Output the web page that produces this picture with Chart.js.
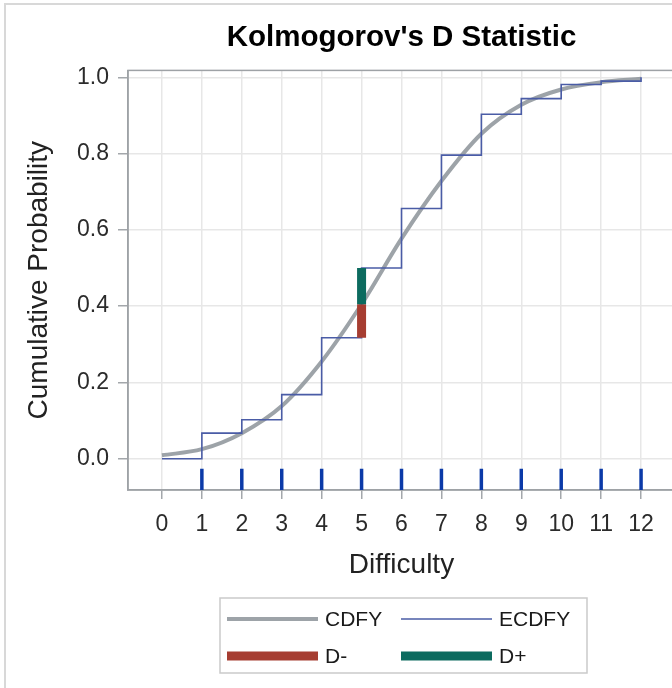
<!DOCTYPE html>
<html>
<head>
<meta charset="utf-8">
<title>Kolmogorov's D Statistic</title>
<script src="https://cdn.jsdelivr.net/npm/chart.js@4.4.1/dist/chart.umd.min.js"></script>
<style>
  html, body { margin: 0; padding: 0; background: #fff; overflow: hidden; }
  #wrap { position: relative; width: 672px; height: 688px; overflow: hidden; }
  #frame { position: absolute; left: 4px; top: 3px; right: -4px; bottom: -4px; border-left: 2px solid #d8d8d8; border-top: 2px solid #d8d8d8; }
  #kschart { position: absolute; left: 0; top: 0; }
</style>
</head>
<body>
<div id="wrap">
  <div id="frame"></div>
  <canvas id="kschart" width="690" height="688"></canvas>
</div>
<script>
var FONT = "'Liberation Sans', Arial, sans-serif";

// axis ticks
var xTicks = [0, 1, 2, 3, 4, 5, 6, 7, 8, 9, 10, 11, 12];
var yTicks = [0, 0.2, 0.4, 0.6, 0.8, 1.0];

// difficulty levels and the two distribution functions
var difficulty = [0, 1, 2, 3, 4, 5, 6, 7, 8, 9, 10, 11, 12];
var cdfY  = [0.009, 0.025, 0.067, 0.138, 0.255, 0.405, 0.577, 0.728, 0.852, 0.928, 0.968, 0.987, 0.996];
var ecdfY = [0.0, 0.067, 0.102, 0.168, 0.317, 0.50, 0.656, 0.796, 0.903, 0.944, 0.981, 0.990, 1.0];

// observed values shown as a rug under the curves
var rugX = [1, 2, 3, 4, 5, 6, 7, 8, 9, 10, 11, 12];

// where the largest gap between the two functions occurs
var dAt = 5;

var RUG_TOP = -0.026, RUG_BOTTOM = -0.082;

function toPoints(xs, ys) {
    return xs.map(function (x, i) { return { x: x, y: ys[i] }; });
}

var rugPoints = [];
rugX.forEach(function (v) {
    rugPoints.push({ x: v, y: RUG_TOP }, { x: v, y: RUG_BOTTOM }, { x: v, y: null });
});

var k = difficulty.indexOf(dAt);
var dMinus = [{ x: dAt, y: ecdfY[k - 1] }, { x: dAt, y: cdfY[k] }];
var dPlus  = [{ x: dAt, y: cdfY[k] }, { x: dAt, y: ecdfY[k] }];

// plot frame (top and right sides; the axes draw the other two)
var framePlugin = {
    id: 'frame',
    beforeDatasetsDraw: function (chart) {
        var a = chart.chartArea, ctx = chart.ctx;
        ctx.save();
        ctx.strokeStyle = '#9ea2a6';
        ctx.lineWidth = 1.5;
        ctx.strokeRect(a.left, a.top, a.right - a.left, a.bottom - a.top);
        ctx.restore();
    }
};

// boxed two-column legend under the x axis title
var boxLegend = {
    id: 'boxLegend',
    afterDraw: function (chart) {
        var ctx = chart.ctx, a = chart.chartArea;
        var items = chart.data.datasets.filter(function (d) { return d.label; });
        var w = 367, h = 75;
        var left = Math.round((a.left + a.right) / 2 - w / 2 + 2);
        var top = 598;
        ctx.save();
        ctx.strokeStyle = '#cacaca';
        ctx.lineWidth = 1.5;
        ctx.strokeRect(left, top, w, h);
        ctx.font = '21px ' + FONT;
        ctx.textBaseline = 'middle';
        ctx.fillStyle = '#1a1a1a';
        items.forEach(function (d, i) {
            var col = i % 2, row = Math.floor(i / 2);
            var sx = left + (col ? 181 : 7);
            var y = top + 21 + row * 37;
            ctx.strokeStyle = d.borderColor;
            ctx.lineWidth = d.borderWidth;
            ctx.lineCap = 'butt';
            ctx.beginPath();
            ctx.moveTo(sx, y);
            ctx.lineTo(sx + 91, y);
            ctx.stroke();
            ctx.fillText(d.label, sx + 98, y + 1);
        });
        ctx.restore();
    }
};

var ctx = document.getElementById('kschart').getContext('2d');
var ksChart = new Chart(ctx, {
    type: 'line',
    data: {
        datasets: [{
            label: 'CDFY',
            data: toPoints(difficulty, cdfY),
            borderColor: 'rgba(140,147,153,0.85)',
            borderWidth: 4,
            cubicInterpolationMode: 'monotone',
            pointRadius: 0,
            order: 4
        }, {
            label: 'ECDFY',
            data: toPoints(difficulty, ecdfY),
            borderColor: '#4a5ca6',
            borderWidth: 1.6,
            stepped: 'before',
            pointRadius: 0,
            order: 3
        }, {
            label: 'D-',
            data: dMinus,
            borderColor: '#a63d31',
            borderWidth: 9,
            borderCapStyle: 'butt',
            pointRadius: 0,
            order: 1
        }, {
            label: 'D+',
            data: dPlus,
            borderColor: '#0c6b5f',
            borderWidth: 9,
            borderCapStyle: 'butt',
            pointRadius: 0,
            order: 0
        }, {
            label: '',
            data: rugPoints,
            borderColor: '#0b3aa8',
            borderWidth: 3.5,
            borderCapStyle: 'butt',
            pointRadius: 0,
            spanGaps: false,
            order: 2
        }]
    },
    options: {
        responsive: false,
        animation: false,
        layout: { padding: { left: 10, top: 4, right: 15, bottom: 100 } },
        plugins: {
            legend: { display: false },
            tooltip: { enabled: false },
            title: {
                display: true,
                fullSize: false,
                text: "Kolmogorov's D Statistic",
                color: '#000',
                font: { family: FONT, size: 29.5, weight: 'bold' },
                padding: { top: 16, bottom: 15 }
            }
        },
        scales: {
            x: {
                type: 'linear',
                min: -0.85,
                max: 12.85,
                afterBuildTicks: function (s) { s.ticks = xTicks.map(function (v) { return { value: v }; }); },
                afterFit: function (s) { s.height = 98; },
                grid: { color: '#e7e7e7', lineWidth: 1.5, tickColor: '#a3a7ab', tickLength: 9, tickWidth: 1.5 },
                border: { color: '#9ea2a6', width: 1.5 },
                ticks: { color: '#2b2b2b', font: { family: FONT, size: 23 }, padding: 12, maxRotation: 0, autoSkip: false },
                title: { display: true, text: 'Difficulty', color: '#222', font: { family: FONT, size: 28 }, padding: { top: 0, bottom: 6 } }
            },
            y: {
                type: 'linear',
                min: -0.082,
                max: 1.018,
                afterBuildTicks: function (s) { s.ticks = yTicks.map(function (v) { return { value: v }; }); },
                afterFit: function (s) { s.width = 118; },
                grid: { color: '#e7e7e7', lineWidth: 1.5, tickColor: '#a3a7ab', tickLength: 10, tickWidth: 1.5 },
                border: { color: '#9ea2a6', width: 1.5 },
                ticks: {
                    color: '#2b2b2b', font: { family: FONT, size: 23 }, padding: 9,
                    callback: function (v) { return v.toFixed(1); }
                },
                title: { display: true, text: 'Cumulative Probability', color: '#222', font: { family: FONT, size: 28 }, padding: { top: 12, bottom: 0 } }
            }
        }
    },
    plugins: [framePlugin, boxLegend]
});
</script>
</body>
</html>
